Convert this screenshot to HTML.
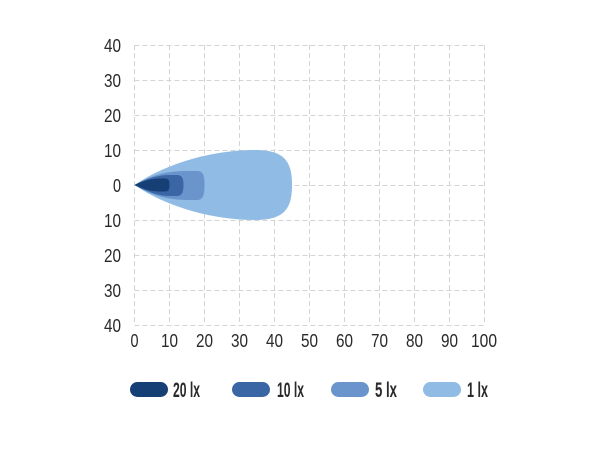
<!DOCTYPE html>
<html><head><style>
body{margin:0;background:#fff;}
text{font-family:"Liberation Sans",sans-serif;fill:#2a2a2a;}
</style></head><body>
<svg width="600" height="450" xmlns="http://www.w3.org/2000/svg">
<g stroke="#d4d4d4" stroke-width="1" stroke-dasharray="5,3" fill="none">
<line x1="134.5" y1="45" x2="134.5" y2="325"/><line x1="169.5" y1="45" x2="169.5" y2="325"/><line x1="204.5" y1="45" x2="204.5" y2="325"/><line x1="239.5" y1="45" x2="239.5" y2="325"/><line x1="274.5" y1="45" x2="274.5" y2="325"/><line x1="309.5" y1="45" x2="309.5" y2="325"/><line x1="344.5" y1="45" x2="344.5" y2="325"/><line x1="379.5" y1="45" x2="379.5" y2="325"/><line x1="414.5" y1="45" x2="414.5" y2="325"/><line x1="449.5" y1="45" x2="449.5" y2="325"/><line x1="484.5" y1="45" x2="484.5" y2="325"/>
<line x1="134.5" y1="45.5" x2="484.5" y2="45.5"/><line x1="134.5" y1="80.5" x2="484.5" y2="80.5"/><line x1="134.5" y1="115.5" x2="484.5" y2="115.5"/><line x1="134.5" y1="150.5" x2="484.5" y2="150.5"/><line x1="134.5" y1="185.5" x2="484.5" y2="185.5"/><line x1="134.5" y1="220.5" x2="484.5" y2="220.5"/><line x1="134.5" y1="255.5" x2="484.5" y2="255.5"/><line x1="134.5" y1="290.5" x2="484.5" y2="290.5"/><line x1="134.5" y1="325.5" x2="484.5" y2="325.5"/>
</g>
<path d="M134.5,185 C168,162 215,150 255,150 C285,150 292,162 292,185 C292,208 285,220 255,220 C215,220 168,208 134.5,185Z" fill="#8fbbe5"/>
<path d="M134.5,185 C150,176 165,171 188,171 L197,171 C203,171 204.5,175 204.5,185 C204.5,195 203,200 197,200 L188,200 C165,200 150,194 134.5,185Z" fill="#6a95cc"/>
<path d="M134.5,185 C148,178 158,175 170,175 L177,175 C182,175 183.5,178 183.5,185 C183.5,192 182,196 177,196 L170,196 C158,196 148,192 134.5,185Z" fill="#3a66a6"/>
<path d="M134.5,185 C145,180 152,178.5 160,178.5 L165,178.5 C169,178.5 169.5,181 169.5,185 C169.5,189 169,191.5 165,191.5 L160,191.5 C152,191.5 145,190 134.5,185Z" fill="#163f75"/>
<g font-size="18" text-anchor="end">
<text x="121" y="52" textLength="17" lengthAdjust="spacingAndGlyphs">40</text><text x="121" y="87" textLength="17" lengthAdjust="spacingAndGlyphs">30</text><text x="121" y="122" textLength="17" lengthAdjust="spacingAndGlyphs">20</text><text x="121" y="157" textLength="17" lengthAdjust="spacingAndGlyphs">10</text><text x="121" y="192" textLength="8" lengthAdjust="spacingAndGlyphs">0</text><text x="121" y="227" textLength="17" lengthAdjust="spacingAndGlyphs">10</text><text x="121" y="262" textLength="17" lengthAdjust="spacingAndGlyphs">20</text><text x="121" y="297" textLength="17" lengthAdjust="spacingAndGlyphs">30</text><text x="121" y="332" textLength="17" lengthAdjust="spacingAndGlyphs">40</text>
</g>
<g font-size="18">
<text x="130.5" y="347" textLength="8" lengthAdjust="spacingAndGlyphs">0</text>
<text x="161" y="347" textLength="17" lengthAdjust="spacingAndGlyphs">10</text>
<text x="196" y="347" textLength="17" lengthAdjust="spacingAndGlyphs">20</text>
<text x="231" y="347" textLength="17" lengthAdjust="spacingAndGlyphs">30</text>
<text x="266" y="347" textLength="17" lengthAdjust="spacingAndGlyphs">40</text>
<text x="301" y="347" textLength="17" lengthAdjust="spacingAndGlyphs">50</text>
<text x="336" y="347" textLength="17" lengthAdjust="spacingAndGlyphs">60</text>
<text x="371" y="347" textLength="17" lengthAdjust="spacingAndGlyphs">70</text>
<text x="406" y="347" textLength="17" lengthAdjust="spacingAndGlyphs">80</text>
<text x="441" y="347" textLength="17" lengthAdjust="spacingAndGlyphs">90</text>
<text x="471" y="347" textLength="26" lengthAdjust="spacingAndGlyphs">100</text>
</g>
<rect x="130" y="382" width="38" height="15" rx="7.5" fill="#163f75"/>
<rect x="232" y="382" width="38" height="15" rx="7.5" fill="#3a66a6"/>
<rect x="331" y="382" width="38" height="15" rx="7.5" fill="#6a95cc"/>
<rect x="423" y="382" width="38" height="15" rx="7.5" fill="#8fbbe5"/>
<g font-size="21" font-weight="bold">
<text x="173" y="397" textLength="27" lengthAdjust="spacingAndGlyphs">20 lx</text>
<text x="277" y="397" textLength="27" lengthAdjust="spacingAndGlyphs">10 lx</text>
<text x="375" y="397" textLength="22" lengthAdjust="spacingAndGlyphs">5 lx</text>
<text x="467" y="397" textLength="21" lengthAdjust="spacingAndGlyphs">1 lx</text>
</g>
</svg>
</body></html>
